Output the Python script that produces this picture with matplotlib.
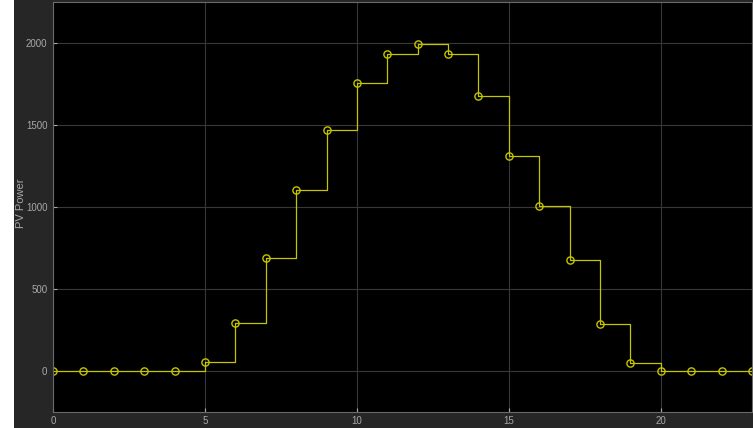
import matplotlib
matplotlib.use("Agg")
import matplotlib.pyplot as plt
from matplotlib.patches import Rectangle

# hours of the day and PV power
hours = list(range(24))
pv_power = [0, 0, 0, 0, 0, 55, 293, 690, 1102, 1470, 1754, 1932, 1993, 1932, 1678,
            1308, 1006, 677, 285, 50, 0, 0, 0, 0]
x_ticks = [0, 5, 10, 15, 20]
y_ticks = [0, 500, 1000, 1500, 2000]

plt.rcParams["font.family"] = ["Liberation Sans", "DejaVu Sans"]

fig = plt.figure(figsize=(7.53, 4.28), dpi=100, facecolor="#262626")
# white strip at the left edge
fig.patches.append(Rectangle((0, 0), 14 / 753, 1, transform=fig.transFigure,
                             facecolor="white", edgecolor="none", zorder=-1))

ax = fig.add_axes([53 / 753, 16 / 428, 699 / 753, 410 / 428])
ax.set_facecolor("black")

ax.step(hours, pv_power, where="post", color="#c4c400", linewidth=0.9)
ax.plot(hours, pv_power, linestyle="none", marker="o", markersize=5.2,
        markerfacecolor="none", markeredgecolor="#c4c400", markeredgewidth=1.0)

ax.set_xlim(0, 23)
ax.set_ylim(-250, 2250)
ax.set_xticks(x_ticks)
ax.set_yticks(y_ticks)
ax.grid(True, color="#383838", linewidth=0.8)
ax.set_axisbelow(True)

ax.tick_params(colors="#a8a8a8", labelsize=7, direction="in", length=3)
ax.tick_params(axis="x", pad=3)
ax.tick_params(axis="y", pad=4)
for side in ["left", "bottom", "top", "right"]:
    ax.spines[side].set_color("#6a6a6a")

fig.text(21 / 753, 0.525, "PV Power", color="#a8a8a8", fontsize=8,
         rotation=90, ha="center", va="center")

fig.savefig("out.png", dpi=100, facecolor=fig.get_facecolor())
